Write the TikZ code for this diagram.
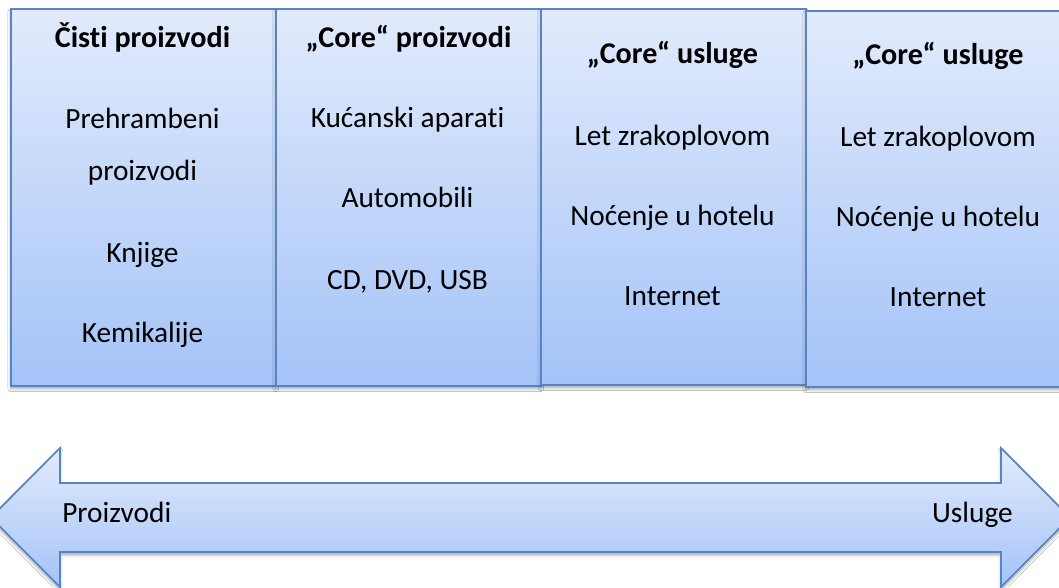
\documentclass[tikz,border=0pt]{standalone}
\usepackage{fontspec}
\setmainfont{Carlito}[Ligatures={NoCommon}]
\usetikzlibrary{shadows.blur}
\definecolor{boxtop}{HTML}{E2EBFC}
\definecolor{boxbot}{HTML}{A4C3F8}
\definecolor{boxline}{HTML}{5585C4}
\tikzset{
  panel/.style={draw=boxline, line width=1.2pt, top color=boxtop, bottom color=boxbot,
    rectangle, inner sep=0pt, anchor=north west,
    blur shadow={shadow xshift=0pt, shadow yshift=-2.2pt, shadow blur radius=2.2pt, shadow opacity=35}},
  label/.style={inner sep=0pt, anchor=base, font=\fontsize{22}{26}\selectfont, text=black},
  title/.style={label, font=\fontsize{22.6}{26}\selectfont\bfseries},
  bigarrow/.style={draw=boxline, line width=1.2pt, top color=boxtop, bottom color=boxbot,
    blur shadow={shadow xshift=0pt, shadow yshift=-2.2pt, shadow blur radius=2.2pt, shadow opacity=35}}
}
\begin{document}
\begin{tikzpicture}[x=0.75pt, y=-0.75pt]
\useasboundingbox (0,0) rectangle (1059,587);
\clip (0,0) rectangle (1059,587);
\fill[white] (0,0) rectangle (1059,587);
% panels
\node[panel, minimum width=198.75pt, minimum height=282.75pt] (b1) at (10,8) {};
\node[panel, minimum width=198.75pt, minimum height=282.75pt] (b2) at (275,8) {};
\node[panel, minimum width=198.75pt, minimum height=282pt] (b3) at (540,8) {};
\node[panel, minimum width=198.75pt, minimum height=282pt] (b4) at (805,10) {};
% panel 1
\node[title] (t1) at (142.5,47) {Čisti proizvodi};
\node[label] (a1) at (142.5,128) {Prehrambeni};
\node[label] (a2) at (142.5,180) {proizvodi};
\node[label] (a3) at (142.5,262) {Knjige};
\node[label] (a4) at (142.5,342) {Kemikalije};
% panel 2
\node[title] (t2) at (408.5,47) {„Core“ proizvodi};
\node[label] (c1) at (407.5,127) {Kućanski aparati};
\node[label] (c2) at (407.5,207) {Automobili};
\node[label] (c3) at (407.5,289) {CD, DVD, USB};
% panel 3
\node[title] (t3) at (672.5,63.5) {„Core“ usluge};
\node[label] (d1) at (672.5,145) {Let zrakoplovom};
\node[label] (d2) at (672.5,225) {Noćenje u hotelu};
\node[label] (d3) at (672.5,305) {Internet};
% panel 4
\node[title] (t4) at (938,64) {„Core“ usluge};
\node[label] (e1) at (938,146) {Let zrakoplovom};
\node[label] (e2) at (938,226) {Noćenje u hotelu};
\node[label] (e3) at (938,306) {Internet};
% double arrow
\path[bigarrow] (-9,517.5) -- (60,448) -- (60,483) -- (1001,483) -- (1001,448)
  -- (1070,517.5) -- (1001,587) -- (1001,552) -- (60,552) -- (60,587) -- cycle;
\node[label, anchor=base west] (p) at (62,522) {Proizvodi};
\node[label, anchor=base east] (u) at (1013,522) {Usluge};
\end{tikzpicture}
\end{document}
